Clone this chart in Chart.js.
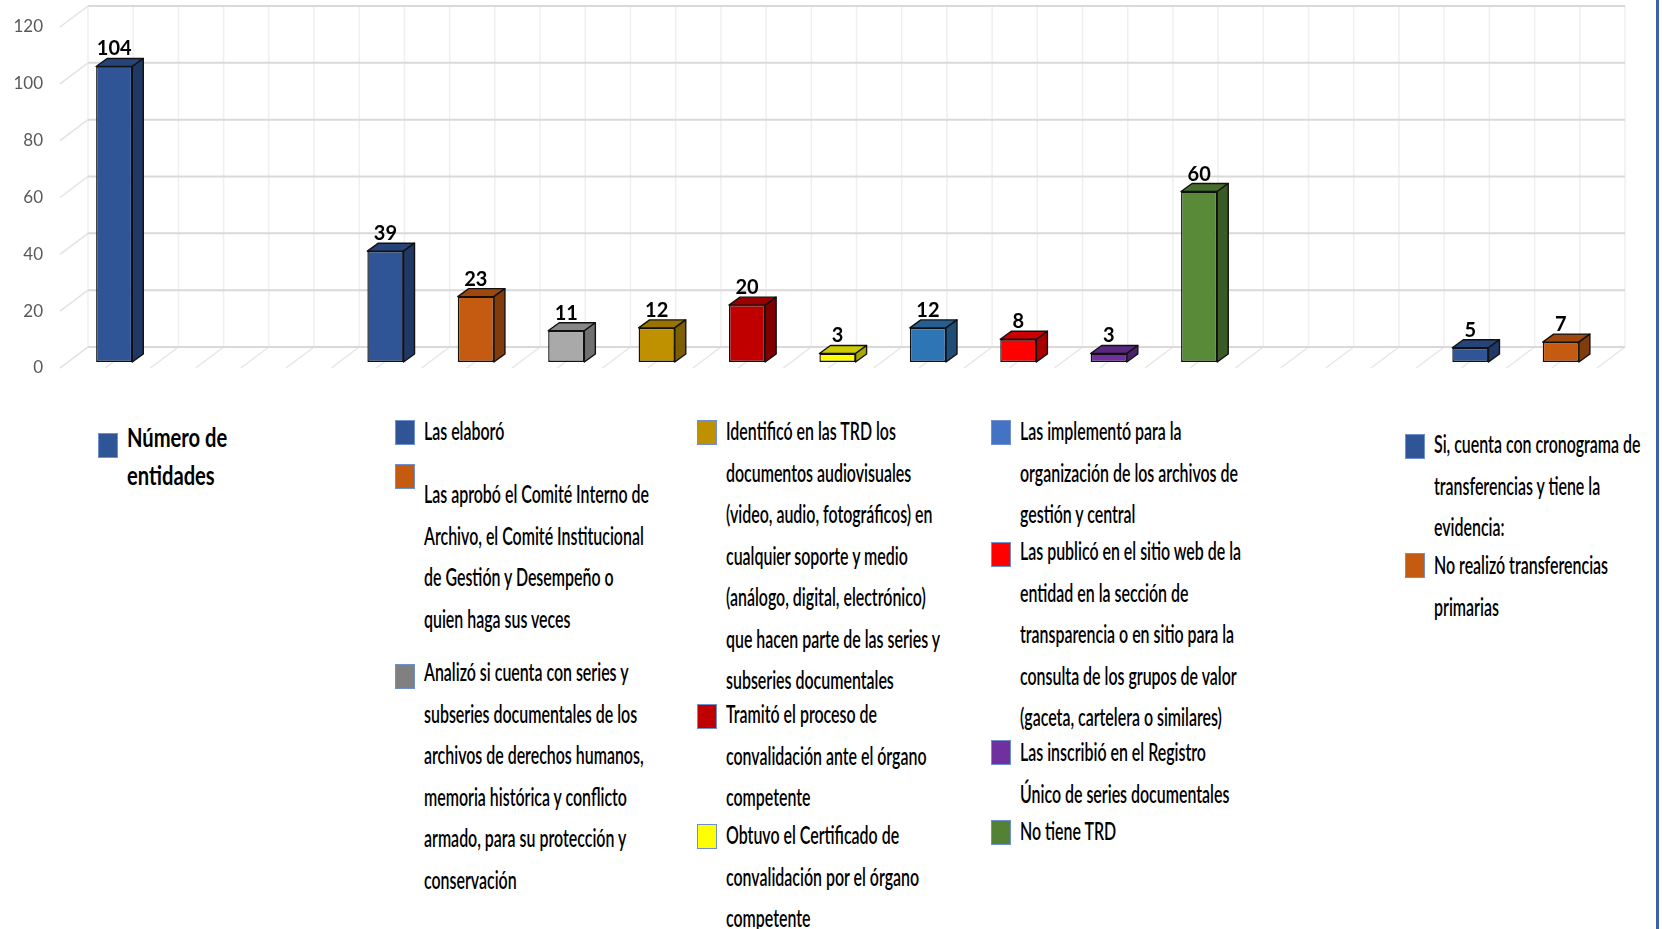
<!DOCTYPE html>
<html>
<head>
<meta charset="utf-8">
<script src="https://cdn.jsdelivr.net/npm/chart.js@4.4.1/dist/chart.umd.min.js"></script>
<style>
  html, body { margin: 0; padding: 0; background: #fff; }
  #wrap { position: relative; width: 1665px; height: 929px; overflow: hidden; font-family: Lato, "Open Sans", sans-serif; }
  #myChart { position: absolute; left: 0; top: 0; }
  .mk { position: absolute; width: 20px; height: 25px; box-sizing: border-box; border: 1px solid #6f8fcf; }
  .ln { position: absolute; white-space: nowrap; color: #000; transform-origin: 0 50%; }
  #edge { position: absolute; left: 1656px; top: 0; width: 3px; height: 929px; background: #3d5eab; }
</style>
</head>
<body>
<div id="wrap">
  <canvas id="myChart" width="1665" height="400"></canvas>
  <div id="legend"></div>
  <div id="edge"></div>
</div>
<script>
// categories (empty strings are the gaps between groups)
const categories = [
  "Número de\nentidades",
  "", "",
  "Las elaboró",
  "Las aprobó el Comité Interno de\nArchivo, el Comité Institucional\nde Gestión y Desempeño o\nquien haga sus veces",
  "Analizó si cuenta con series y\nsubseries documentales de los\narchivos de derechos humanos,\nmemoria histórica y conflicto\narmado, para su protección y\nconservación",
  "Identificó en las TRD los\ndocumentos audiovisuales\n(video, audio, fotográficos) en\ncualquier soporte y medio\n(análogo, digital, electrónico)\nque hacen parte de las series y\nsubseries documentales",
  "Tramitó el proceso de\nconvalidación ante el órgano\ncompetente",
  "Obtuvo el Certificado de\nconvalidación por el órgano\ncompetente",
  "Las implementó para la\norganización de los archivos de\ngestión y central",
  "Las publicó en el sitio web de la\nentidad en la sección de\ntransparencia o en sitio para la\nconsulta de los grupos de valor\n(gaceta, cartelera o similares)",
  "Las inscribió en el Registro\nÚnico de series documentales",
  "No tiene TRD",
  "", "",
  "Si, cuenta con cronograma de\ntransferencias y tiene la\nevidencia:",
  "No realizó transferencias\nprimarias"
];
const values = [104, null, null, 39, 23, 11, 12, 20, 3, 12, 8, 3, 60, null, null, 5, 7];
const barColors = ["#2F5597", null, null, "#2F5597", "#C55A11", "#A9A9A9", "#BF9000", "#C00000",
  "#FFFF00", "#2E75B6", "#FF0000", "#7030A0", "#588A38", null, null, "#2F5597", "#C55A11"];
const legendColors = ["#2F5597", null, null, "#2F5597", "#C55A11", "#808080", "#BF9000", "#C00000",
  "#FFFF00", "#4472C4", "#FF0000", "#7030A0", "#548235", null, null, "#2F5597", "#C55A11"];
const yTicks = [0, 20, 40, 60, 80, 100, 120];

// legend placement: [marker left, marker top, first line centre]
const legendSpots = {
  0: [98, 433, 437], 3: [395, 420, 431], 4: [395, 464, 494], 5: [395, 664, 672],
  6: [697, 420, 431], 7: [697, 704, 714], 8: [697, 824, 835],
  9: [991, 420, 431], 10: [991, 542, 551], 11: [991, 740, 752], 12: [991, 820, 831],
  15: [1405, 434, 444], 16: [1405, 553, 565]
};

const wall = { dx: 19, dy: -15 };   // back wall offset
const front = { dx: -9, dy: 6 };    // front floor edge offset
const depth = { dx: 11, dy: -8 };   // bar depth

const shade = (hex, f) => {
  const n = parseInt(hex.slice(1), 16);
  const r = Math.round(((n >> 16) & 255) * f);
  const g = Math.round(((n >> 8) & 255) * f);
  const b = Math.round((n & 255) * f);
  return `rgb(${r},${g},${b})`;
};

const line = (ctx, x1, y1, x2, y2) => {
  ctx.beginPath(); ctx.moveTo(x1, y1); ctx.lineTo(x2, y2); ctx.stroke();
};

const box3d = {
  id: "box3d",
  beforeDatasetsDraw(chart) {
    const { ctx, chartArea: a, scales: { x, y } } = chart;
    const half = (x.getPixelForValue(1) - x.getPixelForValue(0)) / 2;
    ctx.save();
    ctx.lineWidth = 1.5;
    for (let k = 0; k <= categories.length * 2; k++) {
      const bx = a.left + wall.dx + k * half;
      ctx.strokeStyle = "#efefef";
      line(ctx, bx, a.top + wall.dy, bx, a.bottom + wall.dy);
      ctx.strokeStyle = "#e6e6e6";
      line(ctx, bx, a.bottom + wall.dy, bx - wall.dx + front.dx, a.bottom + front.dy);
    }
    yTicks.forEach((v) => {
      const py = y.getPixelForValue(v);
      ctx.strokeStyle = "#d9d9d9";
      ctx.lineWidth = 2;
      line(ctx, a.left + wall.dx, py + wall.dy, a.right + wall.dx, py + wall.dy);
      ctx.strokeStyle = "#e3e3e3";
      ctx.lineWidth = 1.5;
      line(ctx, a.left + front.dx, py + front.dy, a.left + wall.dx, py + wall.dy);
    });
    ctx.restore();
  },
  afterDatasetsDraw(chart) {
    const { ctx } = chart;
    const meta = chart.getDatasetMeta(0);
    ctx.save();
    ctx.lineWidth = 1.4;
    ctx.strokeStyle = "#111";
    ctx.lineJoin = "round";
    meta.data.forEach((bar, i) => {
      if (values[i] == null) return;
      const { x, y, base, width } = bar.getProps(["x", "y", "base", "width"], true);
      const l = x - width / 2, r = x + width / 2;
      // top face
      ctx.fillStyle = shade(barColors[i], 0.8);
      ctx.beginPath();
      ctx.moveTo(l, y); ctx.lineTo(l + depth.dx, y + depth.dy);
      ctx.lineTo(r + depth.dx, y + depth.dy); ctx.lineTo(r, y); ctx.closePath();
      ctx.fill(); ctx.stroke();
      // side face
      ctx.fillStyle = shade(barColors[i], 0.66);
      ctx.beginPath();
      ctx.moveTo(r, y); ctx.lineTo(r + depth.dx, y + depth.dy);
      ctx.lineTo(r + depth.dx, base + depth.dy); ctx.lineTo(r, base); ctx.closePath();
      ctx.fill(); ctx.stroke();
      // value label
      ctx.fillStyle = "#000";
      ctx.font = "bold 20px Lato, 'Open Sans', sans-serif";
      ctx.textAlign = "center";
      ctx.textBaseline = "alphabetic";
      ctx.fillText(String(values[i]), x, y - 11);
    });
    ctx.restore();
  }
};

const ctx = document.getElementById("myChart").getContext("2d");
const myChart = new Chart(ctx, {
  type: "bar",
  data: {
    labels: categories.map((c) => c.split("\n")),
    datasets: [{
      label: "Número de entidades",
      data: values,
      backgroundColor: barColors,
      borderColor: "#111",
      borderWidth: 1.4,
      borderSkipped: false,
      barPercentage: 0.4,
      categoryPercentage: 1
    }]
  },
  options: {
    responsive: false,
    animation: false,
    layout: { padding: { left: 0, right: 59, top: 21, bottom: 38 } },
    plugins: { legend: { display: false }, tooltip: { enabled: false } },
    scales: {
      x: { display: false },
      y: {
        min: 0,
        max: 120,
        grid: { display: false, drawTicks: false },
        border: { display: false },
        afterFit: (scale) => {
          scale.width = 69;
          scale.paddingTop = 0;
          scale.paddingBottom = 0;
        },
        ticks: {
          stepSize: 20,
          padding: 26,
          labelOffset: 6,
          color: "#595959",
          font: { family: "Lato, 'Open Sans', sans-serif", size: 17 }
        }
      }
    }
  },
  plugins: [box3d]
});

// legend as html, built from the same arrays
const legend = document.getElementById("legend");
const probe = document.createElement("span");
probe.className = "ln";
probe.style.visibility = "hidden";
legend.appendChild(probe);
const widthOf = (txt, font) => { probe.style.font = font; probe.textContent = txt; return probe.offsetWidth; };

const smallFont = "600 25px Lato, 'Open Sans', sans-serif";
const bigFont = "bold 26px Lato, 'Open Sans', sans-serif";
const smallScale = 225 / widthOf("Las aprobó el Comité Interno de", smallFont);
const bigScale = 100 / widthOf("Número de", bigFont);

Object.keys(legendSpots).forEach((key) => {
  const i = Number(key);
  const [mx, my, cy] = legendSpots[i];
  const mk = document.createElement("div");
  mk.className = "mk";
  mk.style.left = mx + "px";
  mk.style.top = my + "px";
  mk.style.background = legendColors[i];
  legend.appendChild(mk);
  const first = i === 0;
  const lh = first ? 38 : 41.5;
  categories[i].split("\n").forEach((txt, n) => {
    const d = document.createElement("div");
    d.className = "ln";
    d.textContent = txt;
    d.style.font = first ? bigFont : smallFont;
    d.style.lineHeight = lh + "px";
    d.style.height = lh + "px";
    d.style.left = (mx + 29) + "px";
    d.style.top = (cy + n * lh - lh / 2) + "px";
    d.style.transform = `scaleX(${first ? bigScale : smallScale})`;
    legend.appendChild(d);
  });
});
legend.removeChild(probe);
</script>
</body>
</html>
